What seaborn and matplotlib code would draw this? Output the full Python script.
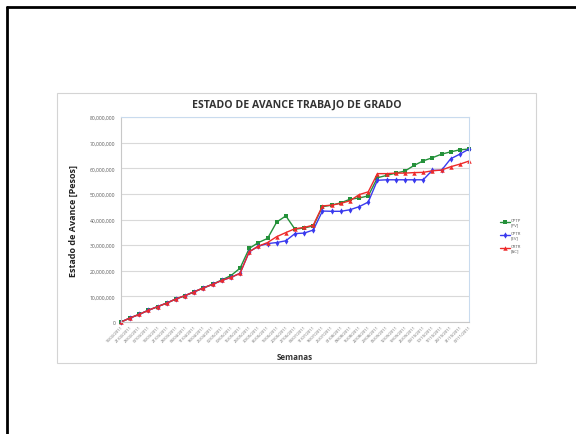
import pandas as pd
import seaborn as sns
import matplotlib.pyplot as plt
from matplotlib.ticker import FuncFormatter
from matplotlib.lines import Line2D
from matplotlib.patches import Rectangle

# Data (weekly progress, millions of pesos)
semanas = ["14/02/2011", "21/02/2011", "28/02/2011", "07/03/2011", "14/03/2011",
           "21/03/2011", "28/03/2011", "04/04/2011", "11/04/2011", "18/04/2011",
           "25/04/2011", "02/05/2011", "09/05/2011", "16/05/2011", "23/05/2011",
           "30/05/2011", "06/06/2011", "13/06/2011", "20/06/2011", "27/06/2011",
           "04/07/2011", "11/07/2011", "18/07/2011", "25/07/2011", "01/08/2011",
           "08/08/2011", "15/08/2011", "22/08/2011", "29/08/2011", "05/09/2011",
           "12/09/2011", "19/09/2011", "26/09/2011", "03/10/2011", "10/10/2011",
           "17/10/2011", "24/10/2011", "31/10/2011", "07/11/2011"]
cptp_pv = [0, 1.6, 3.0, 4.6, 6.0, 7.4, 9.0, 10.3, 11.8, 13.3, 14.7, 16.4, 18.1, 21.0,
           28.7, 31.0, 32.6, 39.0, 41.4, 36.2, 36.7, 37.5, 45.0, 45.6, 46.5, 47.9,
           48.4, 49.2, 56.3, 57.2, 58.1, 58.9, 61.1, 62.9, 64.1, 65.5, 66.4, 67.2, 67.5]
cptr_ev = [0, 1.6, 3.0, 4.6, 6.0, 7.4, 9.0, 10.3, 11.8, 13.3, 14.7, 16.2, 17.4, 19.0,
           27.4, 29.6, 30.6, 31.0, 31.7, 34.5, 34.7, 35.9, 43.3, 43.2, 43.2, 43.8,
           45.0, 46.8, 55.3, 55.5, 55.5, 55.5, 55.5, 55.5, 59.2, 59.2, 63.7, 65.5, 67.5]
crtr_ac = [0, 1.6, 3.0, 4.6, 6.0, 7.4, 9.0, 10.3, 11.8, 13.3, 14.7, 16.2, 17.4, 19.0,
           27.4, 29.6, 31.0, 33.3, 34.9, 36.4, 36.9, 37.8, 45.3, 45.6, 46.3, 47.3,
           49.7, 50.8, 57.9, 57.9, 58.1, 58.1, 58.3, 58.4, 59.0, 59.3, 60.6, 61.6, 62.8]
series = ["CPTP\n[PV]", "CPTR\n[EV]", "CRTR\n[AC]"]

df = pd.DataFrame({"Semana": range(len(semanas)),
                   series[0]: cptp_pv, series[1]: cptr_ev, series[2]: crtr_ac})
df = df.melt(id_vars="Semana", var_name="Serie", value_name="Pesos")
df["Pesos"] = df["Pesos"] * 1e6

sns.set_style("white")
plt.rcParams["font.family"] = ["Open Sans", "DejaVu Sans"]

W, H = 576, 435
fig = plt.figure(figsize=(5.76, 4.35), dpi=100)

# outer frame (top and left only)
fig.add_artist(Line2D([6.5 / W, 6.5 / W], [0, 1 - 7.5 / H], color="black", lw=2))
fig.add_artist(Line2D([6.5 / W, 1], [1 - 7.5 / H, 1 - 7.5 / H], color="black", lw=2))
# chart area box
fig.add_artist(Rectangle((57 / W, 1 - 364 / H), (536 - 57) / W, (364 - 94) / H,
                         fill=False, ec="#d4d4d4", lw=0.8))

ax = fig.add_axes([121 / W, 1 - 323 / H, 348 / W, 205 / H])
palette = {series[0]: "#24913a", series[1]: "#3a3aee", series[2]: "#ee2a2a"}
markers = {series[0]: "s", series[1]: "d", series[2]: "^"}
sns.lineplot(data=df, x="Semana", y="Pesos", hue="Serie", style="Serie",
             palette=palette, markers=markers, dashes=False, markersize=3.2,
             markeredgewidth=0, linewidth=1, ax=ax, clip_on=False)

ax.set_xlim(0, len(semanas) - 1)
ax.set_ylim(0, 80e6)
ax.set_yticks(range(0, 80000001, 10000000))
ax.yaxis.set_major_formatter(FuncFormatter(lambda v, p: f"{int(v):,}"))
ax.set_xticks(range(len(semanas)))
ax.set_xticklabels(semanas, rotation=45, ha="right", rotation_mode="anchor")
ax.tick_params(axis="y", labelsize=3.6, colors="#5a5a5a", length=0, pad=4)
ax.tick_params(axis="x", labelsize=3, colors="#6a6a6a", length=0, pad=2)
ax.yaxis.grid(True, color="#d9d9d9", lw=0.8)
for s in ["top", "right"]:
    ax.spines[s].set_color("#c9dbee")
    ax.spines[s].set_linewidth(0.8)
for s in ["left", "bottom"]:
    ax.spines[s].set_color("#c8c8c8")
    ax.spines[s].set_linewidth(0.8)
ax.set_xlabel("")
ax.set_ylabel("")

ax.legend(loc="center left", bbox_to_anchor=(496 / W, 1 - 236 / H),
          bbox_transform=fig.transFigure, frameon=False, fontsize=3.2,
          handlelength=2.2, labelspacing=1.0, handletextpad=0.3)
for t in ax.get_legend().get_texts():
    t.set_color("#5a5a5a")

fig.text(297 / W, 1 - 105 / H, "ESTADO DE AVANCE TRABAJO DE GRADO",
         fontsize=7.6, weight="bold", ha="center", va="center", color="#333333")
fig.text(73 / W, 1 - 221 / H, "Estado de Avance [Pesos]", rotation=90,
         fontsize=6.5, weight="bold", ha="center", va="center", color="#222222")
fig.text(295 / W, 1 - 358 / H, "Semanas", fontsize=5.8, weight="bold",
         ha="center", va="center", color="#333333")

fig.savefig("out.png", dpi=100)
